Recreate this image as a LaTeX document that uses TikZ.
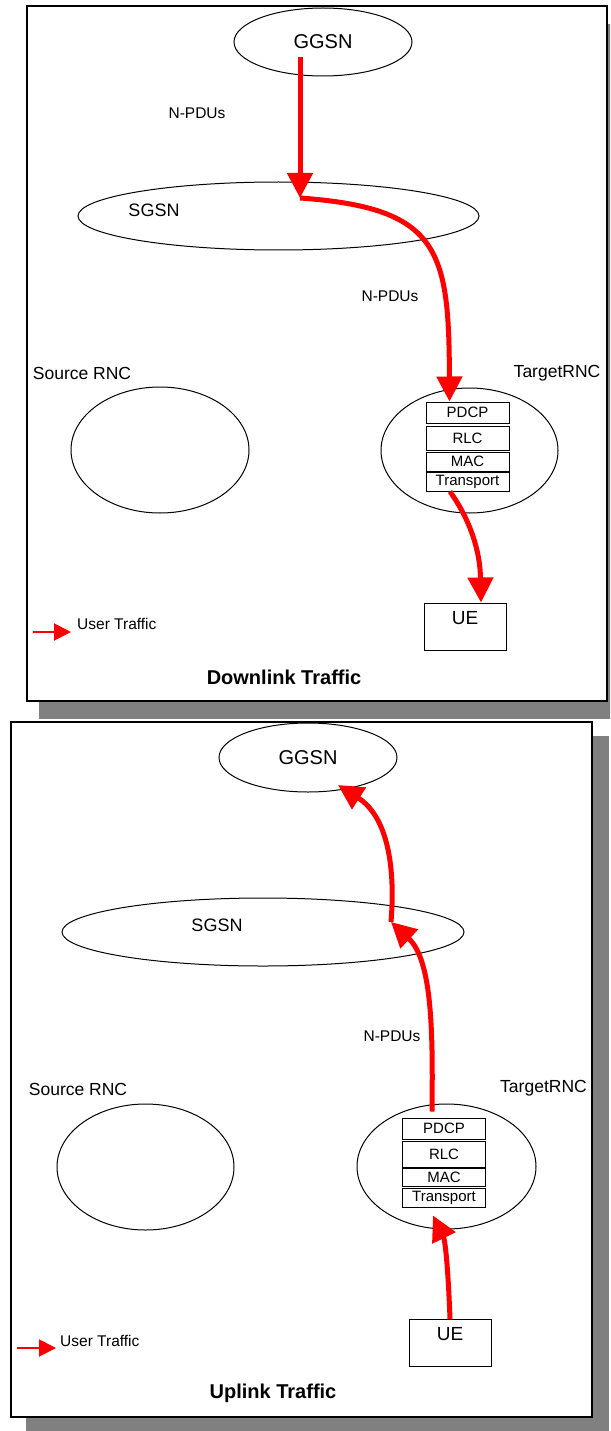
\documentclass[tikz,border=0pt]{standalone}
\usepackage{fontspec}
\setmainfont{Liberation Sans}
\usetikzlibrary{shapes.geometric,arrows.meta}
\tikzset{flow/.style = {draw=red,line width=5pt,-{Triangle[length=25pt,width=25pt]}}}

\begin{document}
\begin{tikzpicture}[x=1pt,y=-1pt,
    panel/.style={draw,fill=white,line width=1.3pt},
    shade/.style={fill=black!50,draw=none},
    net node/.style={ellipse,draw,line width=1pt,inner sep=0pt},
    layer/.style={rectangle,draw,line width=1pt,minimum width=83pt,inner sep=0pt,font=\fontsize{15}{15}\selectfont},
    ue node/.style={rectangle,draw,line width=1pt,minimum width=82pt,minimum height=47pt},
    key/.style={draw=red,line width=2pt,-{Triangle[length=17pt,width=17pt]}},
    small/.style={font=\fontsize{15.5}{18}\selectfont},
    rnc/.style={font=\fontsize{17.5}{20}\selectfont},
    title/.style={font=\bfseries\fontsize{20}{24}\selectfont}]
    \useasboundingbox (0,0) rectangle (610,1431);
    \clip (0,0) rectangle (610,1431);

    % downlink panel
    \fill[shade] (39,24) rectangle (620,719);
    \draw[panel] (27,6) rectangle (607,701);

    \node[net node,minimum width=178pt,minimum height=68pt,font=\fontsize{20}{24}\selectfont] (ggsn) at (323,42) {GGSN};
    \node[net node,minimum width=401pt,minimum height=68pt] (sgsn) at (278.5,216) {};
    \node[font=\fontsize{18}{22}\selectfont] (sgsntxt) at (154,210) {SGSN};
    \node[small] (npdu1) at (197,113) {N-PDUs};
    \node[small] (npdu2) at (390,296) {N-PDUs};

    \node[rnc] (srctxt) at (82,373) {Source RNC};
    \node[net node,minimum width=178pt,minimum height=126pt] (src) at (160,450) {};
    \node[rnc] (tgttxt) at (557,373) {TargetRNC};
    \node[net node,minimum width=177pt,minimum height=125pt] (tgt) at (469.5,450.5) {};

    \node[layer,minimum height=21pt] (pdcp) at (467.5,412.5) {PDCP};
    \node[layer,minimum height=24pt] (rlc) at (467.5,438) {RLC};
    \node[layer,minimum height=19pt] (mac) at (467.5,461.5) {MAC};
    \node[layer,minimum height=19pt] (trans) at (467.5,481.5) {Transport};

    \node[ue node] (ue) at (465,626.5) {};
    \node[font=\fontsize{19}{22}\selectfont] (uetxt) at (465,618) {UE};

    \coordinate (gin) at (300,57);
    \coordinate (sin) at (300,198);
    \path[flow] (gin) -- (sin);
    \path[flow] (sin) .. controls (440,208) and (449,250) .. ([xshift=-18pt]pdcp.north);
    \path[flow] ([xshift=-17.5pt]trans.south) .. controls (470,520) and (480,550) .. ([xshift=16pt]ue.north);

    \coordinate (dkey) at (33,632);
    \coordinate (dkeytip) at (71,632);
    \path[key] (dkey) -- (dkeytip);
    \node[small,anchor=west,inner sep=0pt] (dkeytxt) at (77,624) {User Traffic};
    \node[title] (dtitle) at (284,677) {Downlink Traffic};

    % uplink panel
    \fill[shade] (26,736) rectangle (609,1431);
    \draw[panel] (11,722) rectangle (592,1417);

    \node[net node,minimum width=178pt,minimum height=69pt,font=\fontsize{20}{24}\selectfont] (ggsn2) at (308,757.5) {GGSN};
    \node[net node,minimum width=402pt,minimum height=68pt] (sgsn2) at (263,932) {};
    \node[font=\fontsize{18}{22}\selectfont] (sgsntxt2) at (217,925) {SGSN};
    \node[small] (npdu3) at (392,1036) {N-PDUs};

    \node[rnc] (srctxt2) at (78,1089) {Source RNC};
    \node[net node,minimum width=177pt,minimum height=126pt] (src2) at (145.5,1167) {};
    \node[rnc] (tgttxt2) at (543.5,1088) {TargetRNC};
    \node[net node,minimum width=179pt,minimum height=125pt] (tgt2) at (446.5,1166.5) {};

    \node[layer,minimum height=21pt] (pdcp2) at (444,1128.5) {PDCP};
    \node[layer,minimum height=26pt] (rlc2) at (444,1154) {RLC};
    \node[layer,minimum height=18pt] (mac2) at (444,1177) {MAC};
    \node[layer,minimum height=19pt] (trans2) at (444,1197.5) {Transport};

    \node[ue node] (ue2) at (450,1343) {};
    \node[font=\fontsize{19}{22}\selectfont] (uetxt2) at (450,1334) {UE};

    \coordinate (sin2) at (391,922);
    \coordinate (gin2) at (338,785);
    \path[flow] (ue2.north) .. controls (448,1265) and (445,1240) .. ([xshift=-11pt,yshift=-8pt]trans2.south);
    \path[flow] ([xshift=-12pt,yshift=6pt]pdcp2.north) .. controls (433,1030) and (432,960) .. (sin2);
    \path[flow] (sin2) .. controls (396,860) and (385,815) .. (gin2);

    \coordinate (ukey) at (17,1348);
    \coordinate (ukeytip) at (56,1348);
    \path[key] (ukey) -- (ukeytip);
    \node[small,anchor=west,inner sep=0pt] (ukeytxt) at (60,1341) {User Traffic};
    \node[title] (utitle) at (273,1393) {Uplink Traffic};
\end{tikzpicture}
\end{document}
